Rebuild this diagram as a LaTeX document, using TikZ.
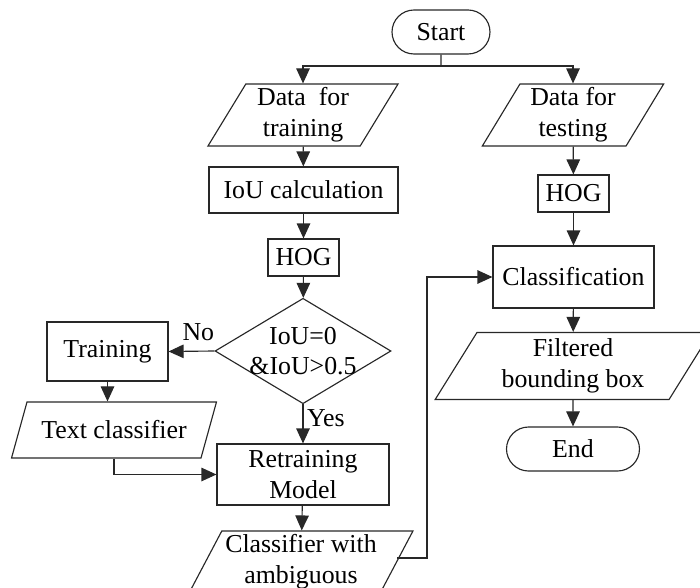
\documentclass[tikz,border=0pt]{standalone}
\usepackage{fontspec}
\setmainfont{Liberation Serif}
\usetikzlibrary{arrows.meta,shapes.geometric,shapes.misc}
\definecolor{linec}{RGB}{40,40,40}

\begin{document}
\begin{tikzpicture}[
  font=\fontsize{14.7}{17.5}\selectfont,
  box/.style={draw=linec, line width=0.65pt, align=center, inner sep=2pt},
  proc/.style={box, rectangle},
  term/.style={box, rounded rectangle},
  io/.style={box, trapezium, trapezium left angle=62,
    trapezium right angle=118, trapezium stretches=true},
  cond/.style={box, diamond, inner sep=-0.25cm},
  wire/.style={line width=0.65pt, draw=linec},
  arr/.style={wire, -{Triangle[length=0.3cm,width=0.27cm]}},
  lab/.style={inner sep=2pt}
]
\useasboundingbox (0,0) rectangle (14,11.74);

% ---- Terminals ----
\node[term, minimum width=2.1cm, minimum height=0.88cm] (start) at (8.82, 11.10) {Start};
\coordinate (split) at (8.82, 10.42);

% ---- Training branch ----
\node[io, minimum width=3.84cm, minimum height=1.24cm] (trdata) at (6.06, 9.44) {Data\ \ for\\training};
\node[proc, minimum width=3.78cm, minimum height=0.92cm] (iou) at (6.07, 7.94) {IoU calculation};
\node[proc, minimum width=1.42cm, minimum height=0.74cm] (hogl) at (6.07, 6.59) {HOG};
\node[cond, minimum width=3.52cm, minimum height=2.0cm] (check) at (6.06, 4.72) {IoU=0\\\&IoU>0.5};
\node[proc, minimum width=2.42cm, minimum height=1.18cm] (train) at (2.15, 4.71) {Training};
\node[io, minimum width=4.1cm, minimum height=1.12cm] (txtcls) at (2.28, 3.14) {Text classifier};
\node[proc, minimum width=3.44cm, minimum height=1.22cm] (retrain) at (6.06, 2.25) {Retraining\\Model};
\node[io, minimum width=4.1cm, minimum height=1.24cm] (ambig) at (6.02, 0.50) {Classifier with\\ambiguous};

% ---- Testing branch ----
\node[io, minimum width=3.64cm, minimum height=1.24cm] (tsdata) at (11.46, 9.44) {Data for\\testing};
\node[proc, minimum width=1.42cm, minimum height=0.74cm] (hogr) at (11.47, 7.87) {HOG};
\node[proc, minimum width=3.22cm, minimum height=1.24cm] (classify) at (11.47, 6.20) {Classification};
\node[io, minimum width=5.52cm, minimum height=1.34cm] (filtered) at (11.46, 4.42) {Filtered\\bounding box};
\node[term, minimum width=2.8cm, minimum height=0.88cm] (end) at (11.46, 2.76) {End};
\coordinate (loop) at (8.54, 6.20);

% ---- Arrows: split ----
\draw[wire] (start) -- (split);
\draw[arr] (split) -| (trdata);
\draw[arr] (split) -| (tsdata);

% ---- Arrows: training ----
\draw[arr] (trdata) -- (iou);
\draw[arr] (iou) -- (hogl);
\draw[arr] (hogl) -- (check);
\draw[arr] (check.west) -- node[lab, above, pos=0.35, yshift=0.12cm]{No} (train.east);
\draw[arr] (check.south) -- node[lab, right, pos=0.35]{Yes} (retrain.north);
\draw[arr] (train.south) -- (train.south |- txtcls.north);
\draw[arr] (txtcls.south) |- (retrain.west);
\draw[arr] (retrain) -- (ambig);
\draw[arr] ([yshift=0.08cm]ambig.east) -| (loop) -- (classify.west);

% ---- Arrows: testing ----
\draw[arr] (tsdata) -- (hogr);
\draw[arr] (hogr) -- (classify);
\draw[arr] (classify) -- (filtered);
\draw[arr] (filtered) -- (end);

\end{tikzpicture}
\end{document}
